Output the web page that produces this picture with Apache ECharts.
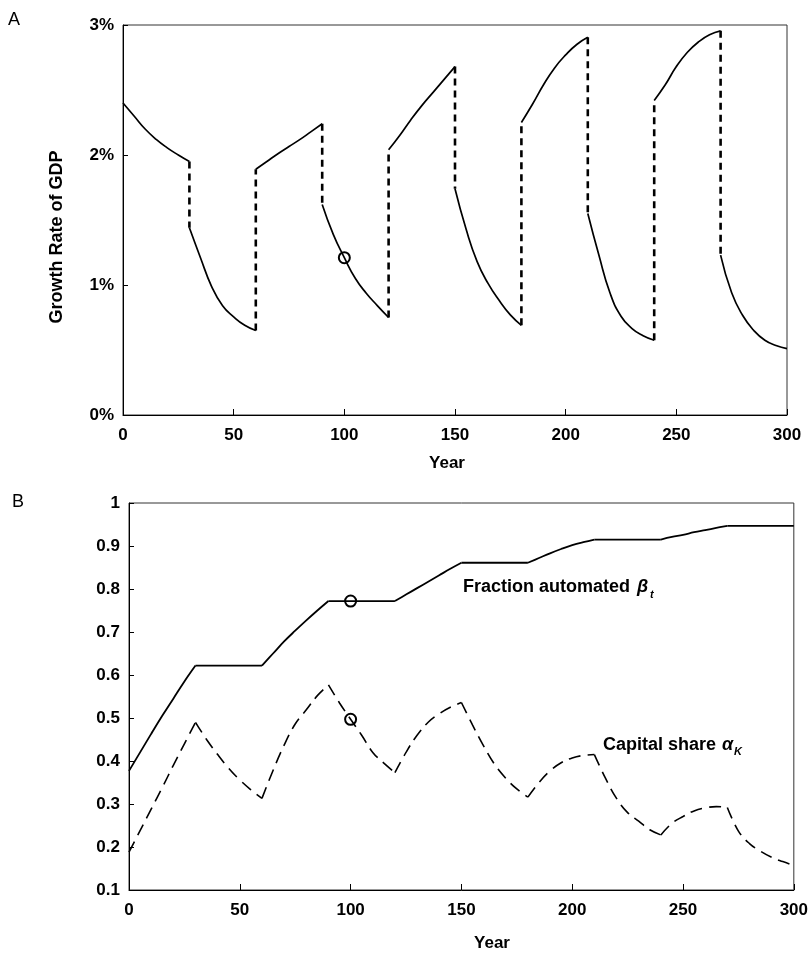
<!DOCTYPE html>
<html><head><meta charset="utf-8">
<script src="https://cdn.jsdelivr.net/npm/echarts@6/dist/echarts.min.js"></script>
<style>html,body{margin:0;padding:0;background:#fff}#c{width:811px;height:953px}</style>
</head><body><div id="c"></div>
<script>
// ---------- DATA ----------
// Panel A: growth rate of GDP (%), one array per 30-year regime, sampled every 5 years
const regimeStarts = [0, 30, 60, 90, 120, 150, 180, 210, 240, 270];
const regimeOffsets = [0, 5, 10, 15, 20, 25, 30];
const gdpReg1  = [2.40, 2.30, 2.20, 2.12, 2.055, 2.00, 1.95];
const gdpReg2  = [1.44, 1.21, 0.99, 0.84, 0.755, 0.69, 0.65];
const gdpReg3  = [1.89, 1.95, 2.01, 2.065, 2.12, 2.18, 2.24];
const gdpReg4  = [1.62, 1.39, 1.21, 1.05, 0.935, 0.84, 0.75];
const gdpReg5  = [2.04, 2.15, 2.27, 2.38, 2.48, 2.58, 2.68];
const gdpReg6  = [1.74, 1.43, 1.18, 1.01, 0.88, 0.77, 0.69];
const gdpReg7  = [2.25, 2.39, 2.54, 2.67, 2.77, 2.85, 2.905];
const gdpReg8  = [1.55, 1.23, 0.94, 0.76, 0.665, 0.61, 0.575];
const gdpReg9  = [2.42, 2.54, 2.68, 2.79, 2.87, 2.925, 2.955];
const gdpReg10 = [1.23, 0.94, 0.765, 0.65, 0.575, 0.535, 0.51];
const gdpRegimes = [gdpReg1, gdpReg2, gdpReg3, gdpReg4, gdpReg5, gdpReg6, gdpReg7, gdpReg8, gdpReg9, gdpReg10];

// Panel B: every 5 years
const years = [0,5,10,15,20,25,30,35,40,45,50,55,60,65,70,75,80,85,90,95,100,105,110,115,120,125,130,135,140,145,150,
  155,160,165,170,175,180,185,190,195,200,205,210,215,220,225,230,235,240,245,250,255,260,265,270,275,280,285,290,295,300];
const betaAutomated = [0.377,0.42,0.463,0.505,0.545,0.585,0.622, 0.622,0.622,0.622,0.622,0.622,0.622,
  0.65,0.678,0.703,0.727,0.75,0.772, 0.772,0.772,0.772,0.772,0.772,0.772,
  0.787,0.802,0.817,0.832,0.847,0.861, 0.861,0.861,0.861,0.861,0.861,0.861,
  0.872,0.883,0.893,0.902,0.909,0.915, 0.915,0.915,0.915,0.915,0.915,0.915,
  0.921,0.926,0.932,0.937,0.942,0.947, 0.947,0.947,0.947,0.947,0.947,0.947];
const alphaCapital = [0.188,0.238,0.288,0.338,0.39,0.44,0.49, 0.45,0.415,0.383,0.356,0.333,0.313,
  0.378,0.437,0.486,0.519,0.552,0.577, 0.535,0.497,0.46,0.42,0.395,0.373,
  0.42,0.46,0.49,0.51,0.525,0.536, 0.484,0.435,0.392,0.36,0.335,0.316,
  0.35,0.377,0.396,0.407,0.413,0.415, 0.36,0.313,0.28,0.26,0.24,0.228,
  0.255,0.271,0.284,0.291,0.294,0.292, 0.237,0.208,0.19,0.176,0.166,0.157];
const circleYear = 100;

// ---------- CHART ----------
const FONT = 'Liberation Sans';
const chart = echarts.init(document.getElementById('c'), null, {renderer: 'canvas'});

function xAxisCfg(gi) {
  return {
    type: 'value', gridIndex: gi, min: 0, max: 300, interval: 50,
    axisLine: {show: true, lineStyle: {color: '#000', width: 1}},
    axisTick: {show: true, inside: true, length: 6, lineStyle: {color: '#000'}},
    axisLabel: {color: '#000', fontFamily: FONT, fontWeight: 'bold', fontSize: 17, margin: 12},
    splitLine: {show: false}
  };
}
function yAxisCfg(gi, min, max, interval, fmt) {
  return {
    type: 'value', gridIndex: gi, min, max, interval,
    axisLine: {show: true, lineStyle: {color: '#000', width: 1}},
    axisTick: {show: true, inside: true, length: 5, lineStyle: {color: '#000'}},
    axisLabel: {color: '#000', fontFamily: FONT, fontWeight: 'bold', fontSize: 17, margin: 9, formatter: fmt},
    splitLine: {show: false}
  };
}

const circleStyle = {color: 'rgba(0,0,0,0)', borderColor: '#000', borderWidth: 2, opacity: 1};
const series = [];
// Panel A solid regime curves
gdpRegimes.forEach((vals, k) => {
  series.push({
    type: 'line', xAxisIndex: 0, yAxisIndex: 0, symbol: 'none', smooth: 0.5,
    data: vals.map((v, i) => [regimeStarts[k] + regimeOffsets[i], v]),
    lineStyle: {color: '#000', width: 1.7}, silent: true
  });
});
// Panel A dashed jumps at regime switches
for (let k = 1; k < gdpRegimes.length; k++) {
  const prev = gdpRegimes[k - 1];
  series.push({
    type: 'line', xAxisIndex: 0, yAxisIndex: 0, symbol: 'none',
    data: [[regimeStarts[k], prev[prev.length - 1]], [regimeStarts[k], gdpRegimes[k][0]]],
    lineStyle: {color: '#000', width: 2.6, type: [7, 5]}, silent: true
  });
}
// Panel A circle
const regIdx = regimeStarts.findIndex((s, i) => circleYear >= s && (i === regimeStarts.length - 1 || circleYear < regimeStarts[i + 1]));
const gdpAtCircle = gdpRegimes[regIdx][regimeOffsets.indexOf(circleYear - regimeStarts[regIdx])];
series.push({
  type: 'scatter', xAxisIndex: 0, yAxisIndex: 0, symbol: 'circle', symbolSize: 11,
  data: [[circleYear, gdpAtCircle]], itemStyle: circleStyle, silent: true, z: 5
});
// Panel B: one piece per regime so kinks stay sharp
regimeStarts.forEach((s) => {
  const i0 = years.indexOf(s), i1 = years.indexOf(s + 30);
  series.push({
    type: 'line', xAxisIndex: 1, yAxisIndex: 1, symbol: 'none', smooth: 0.4,
    data: years.slice(i0, i1 + 1).map((y, j) => [y, betaAutomated[i0 + j]]),
    lineStyle: {color: '#000', width: 1.8}, silent: true
  });
  series.push({
    type: 'line', xAxisIndex: 1, yAxisIndex: 1, symbol: 'none', smooth: 0.4,
    data: years.slice(i0, i1 + 1).map((y, j) => [y, alphaCapital[i0 + j]]),
    lineStyle: {color: '#000', width: 1.6, type: [12, 7]}, silent: true
  });
});
const ci = years.indexOf(circleYear);
series.push({
  type: 'scatter', xAxisIndex: 1, yAxisIndex: 1, symbol: 'circle', symbolSize: 11,
  data: [[circleYear, betaAutomated[ci]], [circleYear, alphaCapital[ci]]],
  itemStyle: circleStyle, silent: true, z: 5
});

function txt(x, y, text, font, align, valign, extra) {
  return Object.assign({
    type: 'text', x, y, silent: true,
    style: {text, font, fill: '#000', textAlign: align, textVerticalAlign: valign, align: align, verticalAlign: valign}
  }, extra || {});
}

chart.setOption({
  animation: false,
  backgroundColor: '#fff',
  grid: [
    {left: 123, top: 25, width: 664, height: 390, show: true, borderColor: '#333', borderWidth: 1, backgroundColor: 'transparent'},
    {left: 129, top: 503, width: 665, height: 387, show: true, borderColor: '#333', borderWidth: 1, backgroundColor: 'transparent'}
  ],
  xAxis: [xAxisCfg(0), xAxisCfg(1)],
  yAxis: [
    yAxisCfg(0, 0, 3, 1, v => v + '%'),
    yAxisCfg(1, 0.1, 1, 0.1, v => String(Math.round(v * 10) / 10))
  ],
  series,
  graphic: [
    txt(8, 11, 'A', '18px ' + FONT, 'left', 'top'),
    txt(12, 493, 'B', '18px ' + FONT, 'left', 'top'),
    txt(57, 237, 'Growth Rate of GDP', 'bold 18px ' + FONT, 'center', 'middle', {rotation: Math.PI / 2}),
    txt(447, 455, 'Year', 'bold 17px ' + FONT, 'center', 'top'),
    txt(492, 935, 'Year', 'bold 17px ' + FONT, 'center', 'top'),
    txt(463, 578, 'Fraction automated', 'bold 18px ' + FONT, 'left', 'top'),
    txt(637, 578, 'β', 'italic bold 18px ' + FONT, 'left', 'top'),
    txt(650, 589, 't', 'italic bold 11px ' + FONT, 'left', 'top'),
    txt(603, 736, 'Capital share', 'bold 18px ' + FONT, 'left', 'top'),
    txt(722, 736, 'α', 'italic bold 18px ' + FONT, 'left', 'top'),
    txt(734, 746, 'K', 'italic bold 11px ' + FONT, 'left', 'top')
  ]
});
</script>
</body></html>
